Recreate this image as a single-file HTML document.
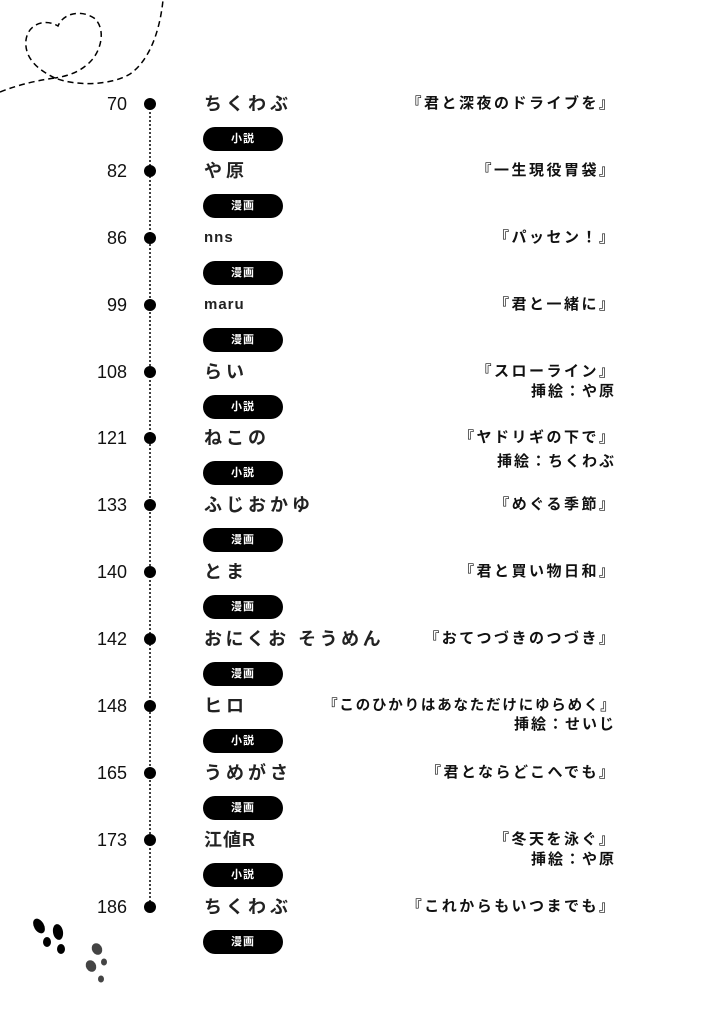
<!DOCTYPE html>
<html><head><meta charset="utf-8"><style>
body{margin:0;width:721px;height:1024px;background:#fff;position:relative;overflow:hidden;font-family:"Liberation Sans","Noto Sans CJK JP",sans-serif;color:#111}
.n{position:absolute;right:594px;font-size:18px;text-align:right;line-height:20px;color:#111}
.d{position:absolute;left:144px;width:12px;height:12px;border-radius:50%;background:#000}
.a{position:absolute;left:204px;font-size:18px;letter-spacing:4px;line-height:20px;font-weight:bold;color:#222}
.p{position:absolute;left:203px;width:80px;height:24px;border-radius:12px;background:#000;color:#fff;font-size:11px;font-weight:bold;text-align:center;line-height:24px;letter-spacing:1px}
.t{position:absolute;right:107px;font-size:15px;font-weight:bold;letter-spacing:2.5px;line-height:18px;white-space:nowrap;margin-right:-2.5px}
.i{position:absolute;right:107px;font-size:15px;font-weight:bold;letter-spacing:2px;line-height:18px;white-space:nowrap;margin-right:-2px}
</style></head><body>
<svg width="721" height="1024" style="position:absolute;left:0;top:0">
<path d="M0,92 C20,84 40,80 55,78 C75,86 110,86 130,74 C150,60 160,30 163,0" fill="none" stroke="#000" stroke-width="1.5" stroke-dasharray="6,4"/>
<path d="M55,78 C38,70 24,58 26,40 C28,24 45,18 58,26 C64,12 82,10 94,18 C106,28 102,50 90,62 C80,72 68,76 55,78" fill="none" stroke="#000" stroke-width="1.5" stroke-dasharray="6,4"/>
<line x1="150" y1="108" x2="150" y2="905" stroke="#000" stroke-width="1.5" stroke-dasharray="2,2"/>
<g fill="#000">
<ellipse cx="39" cy="926" rx="5" ry="8" transform="rotate(-30 39 926)"/>
<ellipse cx="47" cy="942" rx="4" ry="5"/>
<ellipse cx="58" cy="932" rx="5" ry="8" transform="rotate(-10 58 932)"/>
<ellipse cx="61" cy="949" rx="4" ry="5"/>
<ellipse cx="97" cy="949" rx="5" ry="6" transform="rotate(-30 97 949)" fill="#444"/>
<ellipse cx="104" cy="962" rx="3" ry="3.5" fill="#444"/>
<ellipse cx="91" cy="966" rx="5" ry="6" transform="rotate(-30 91 966)" fill="#444"/>
<ellipse cx="101" cy="979" rx="3" ry="3.5" fill="#444"/>
</g>
</svg>
<div class="n" style="top:94px">70</div><div class="d" style="top:98px"></div><div class="a" style="top:94px">ちくわぶ</div><div class="p" style="top:127px">小説</div><div class="t" style="top:95px">『君と深夜のドライブを』</div>
<div class="n" style="top:161px">82</div><div class="d" style="top:165px"></div><div class="a" style="top:161px">や原</div><div class="p" style="top:194px">漫画</div><div class="t" style="top:162px">『一生現役胃袋』</div>
<div class="n" style="top:228px">86</div><div class="d" style="top:232px"></div><div class="a" style="top:228px;font-size:15px;letter-spacing:1px">nns</div><div class="p" style="top:261px">漫画</div><div class="t" style="top:229px">『パッセン！』</div>
<div class="n" style="top:295px">99</div><div class="d" style="top:299px"></div><div class="a" style="top:295px;font-size:15px;letter-spacing:1px">maru</div><div class="p" style="top:328px">漫画</div><div class="t" style="top:296px">『君と一緒に』</div>
<div class="n" style="top:362px">108</div><div class="d" style="top:366px"></div><div class="a" style="top:362px">らい</div><div class="p" style="top:395px">小説</div><div class="t" style="top:363px">『スローライン』</div><div class="i" style="top:383px">挿絵：や原</div>
<div class="n" style="top:428px">121</div><div class="d" style="top:432px"></div><div class="a" style="top:428px">ねこの</div><div class="p" style="top:461px">小説</div><div class="t" style="top:429px">『ヤドリギの下で』</div><div class="i" style="top:453px">挿絵：ちくわぶ</div>
<div class="n" style="top:495px">133</div><div class="d" style="top:499px"></div><div class="a" style="top:495px">ふじおかゆ</div><div class="p" style="top:528px">漫画</div><div class="t" style="top:496px">『めぐる季節』</div>
<div class="n" style="top:562px">140</div><div class="d" style="top:566px"></div><div class="a" style="top:562px">とま</div><div class="p" style="top:595px">漫画</div><div class="t" style="top:563px">『君と買い物日和』</div>
<div class="n" style="top:629px">142</div><div class="d" style="top:633px"></div><div class="a" style="top:629px;letter-spacing:3.5px">おにくお そうめん</div><div class="p" style="top:662px">漫画</div><div class="t" style="top:630px">『おてつづきのつづき』</div>
<div class="n" style="top:696px">148</div><div class="d" style="top:700px"></div><div class="a" style="top:696px">ヒロ</div><div class="p" style="top:729px">小説</div><div class="t" style="top:697px;letter-spacing:1.8px;font-size:14.5px">『このひかりはあなただけにゆらめく』</div><div class="i" style="top:716px">挿絵：せいじ</div>
<div class="n" style="top:763px">165</div><div class="d" style="top:767px"></div><div class="a" style="top:763px">うめがさ</div><div class="p" style="top:796px">漫画</div><div class="t" style="top:764px">『君とならどこへでも』</div>
<div class="n" style="top:830px">173</div><div class="d" style="top:834px"></div><div class="a" style="top:830px;letter-spacing:1px">江値R</div><div class="p" style="top:863px">小説</div><div class="t" style="top:831px">『冬天を泳ぐ』</div><div class="i" style="top:851px">挿絵：や原</div>
<div class="n" style="top:897px">186</div><div class="d" style="top:901px"></div><div class="a" style="top:897px">ちくわぶ</div><div class="p" style="top:930px">漫画</div><div class="t" style="top:898px">『これからもいつまでも』</div>
</body></html>
